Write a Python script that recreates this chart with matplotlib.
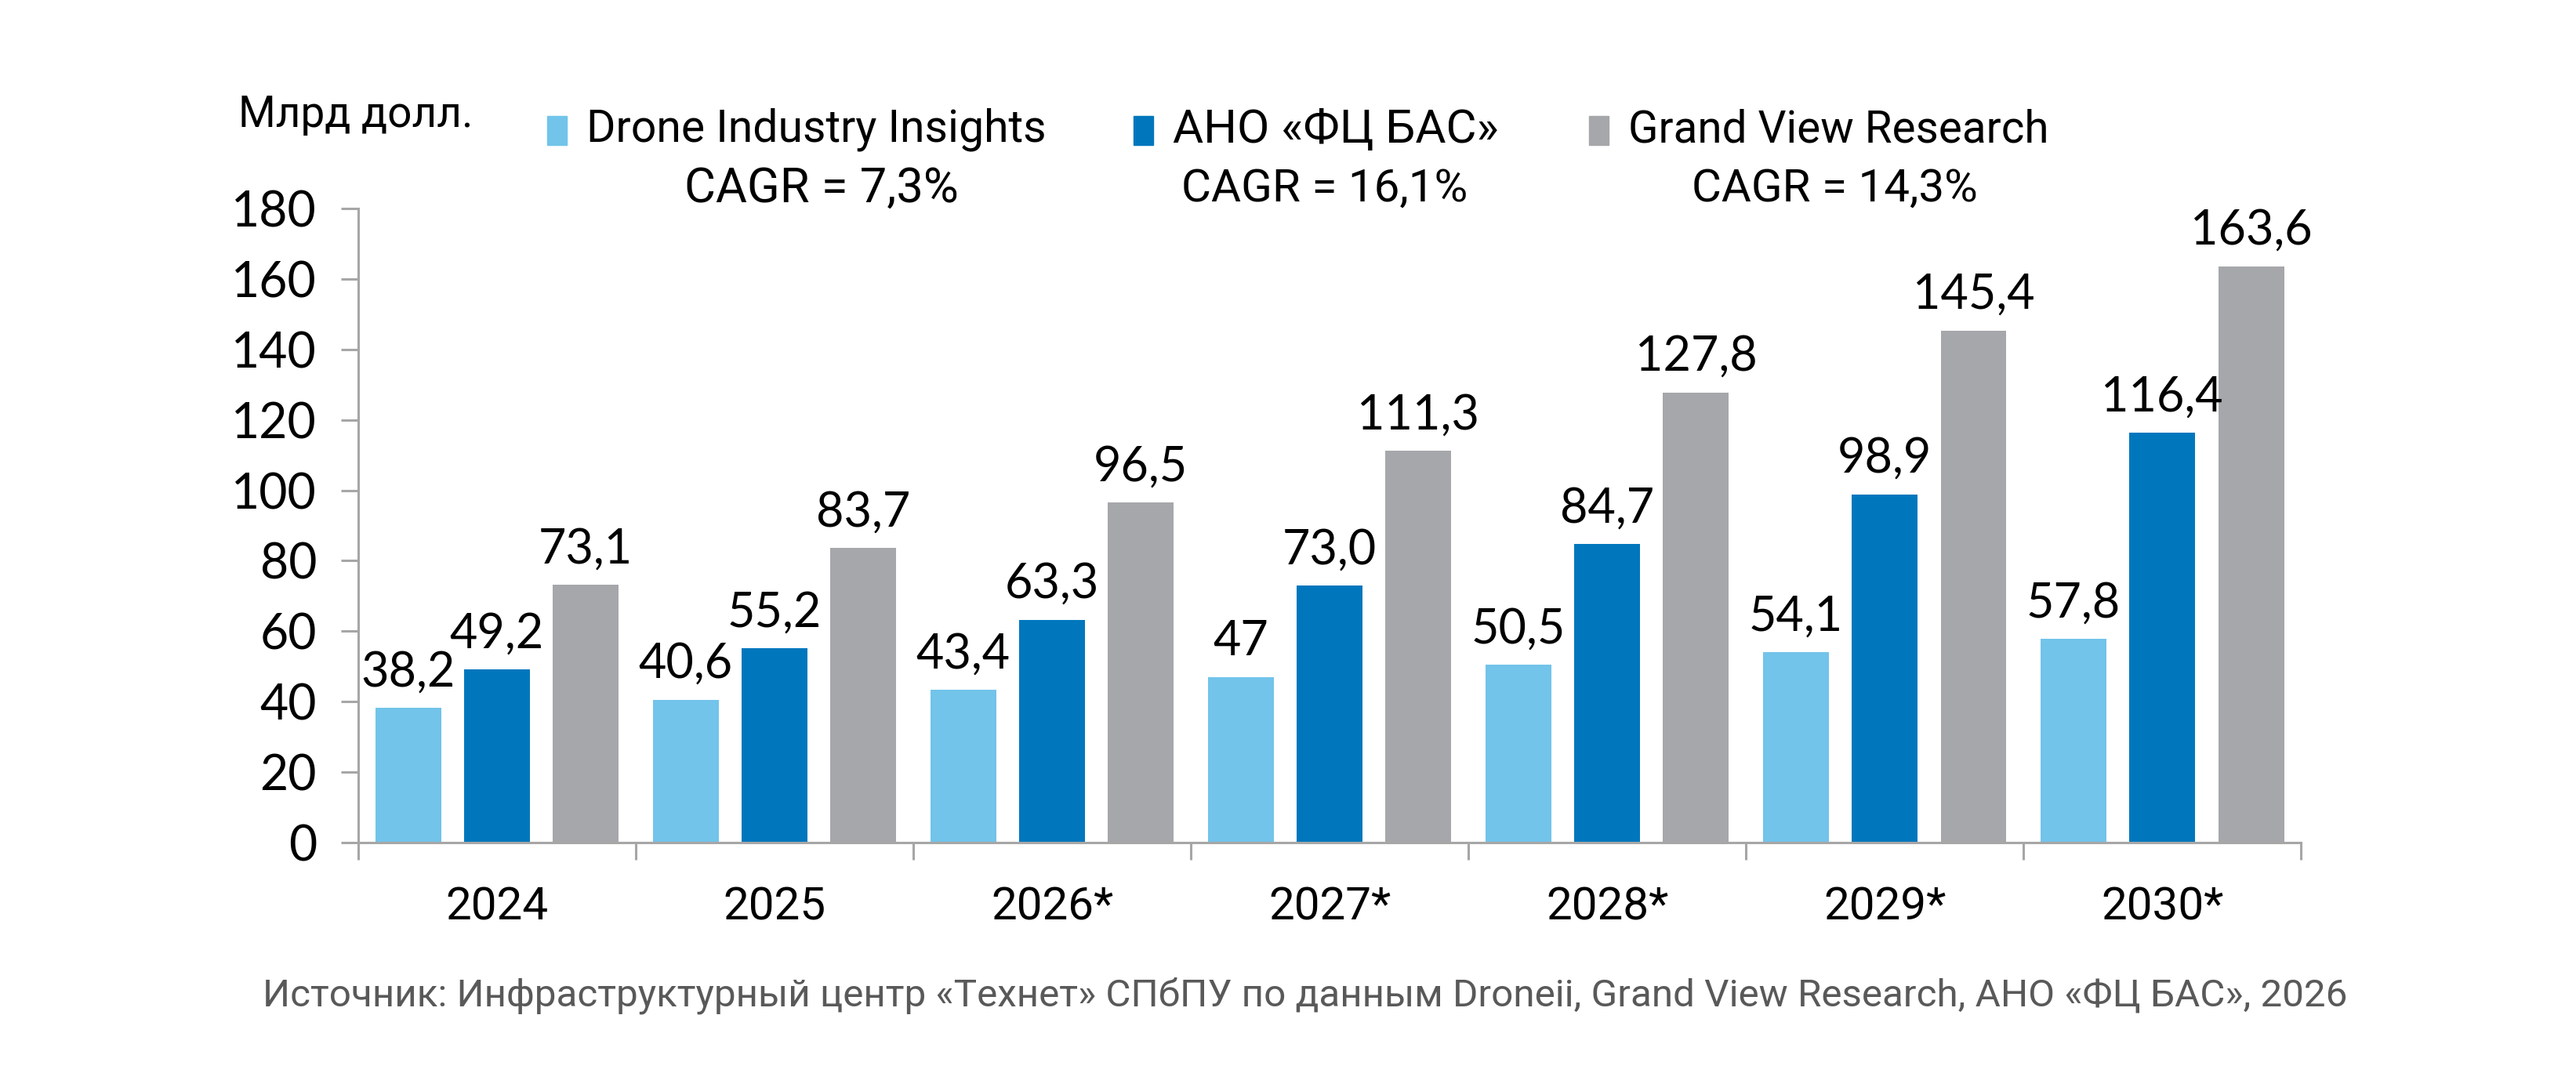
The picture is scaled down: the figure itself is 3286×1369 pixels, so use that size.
import numpy as np
import matplotlib
matplotlib.use('Agg')
import matplotlib.pyplot as plt
from matplotlib.patches import Rectangle
from matplotlib.ticker import FixedLocator

# data
years = ['2024', '2025', '2026*', '2027*', '2028*', '2029*', '2030*']
series = ['Drone Industry Insights', 'АНО «ФЦ БАС»', 'Grand View Research']
cagr = ['CAGR = 7,3%', 'CAGR = 16,1%', 'CAGR = 14,3%']
dii = [38.2, 40.6, 43.4, 47.0, 50.5, 54.1, 57.8]
dii_lbl = ['38,2', '40,6', '43,4', '47', '50,5', '54,1', '57,8']
fcbas = [49.2, 55.2, 63.3, 73.0, 84.7, 98.9, 116.4]
gvr = [73.1, 83.7, 96.5, 111.3, 127.8, 145.4, 163.6]
yticks = [0, 20, 40, 60, 80, 100, 120, 140, 160, 180]

colors = ['#72C4EA', '#0077BD', '#A6A7AA']
num_font = ['Lato', 'DejaVu Sans']
narrow = ['Roboto', 'DejaVu Sans']
axis_col = '#A6A6A6'

fig = plt.figure(figsize=(32.87, 13.69), dpi=100)
ax = fig.add_axes([0.139, 0.2147, 0.754, 0.591])

x = np.arange(len(years))
w = 0.237
off = 0.32
values = [dii, fcbas, gvr]
labels = [dii_lbl,
          [f'{v:.1f}'.replace('.', ',') for v in fcbas],
          [f'{v:.1f}'.replace('.', ',') for v in gvr]]
for i in range(3):
    bars = ax.bar(x + (i - 1) * off, values[i], width=w, color=colors[i], zorder=2)
    for b, t in zip(bars, labels[i]):
        ax.annotate(t, (b.get_x() + b.get_width() / 2, b.get_height()),
                    xytext=(0, 12), textcoords='offset points',
                    ha='center', va='bottom', fontsize=44, family=num_font)

ax.set_xlim(-0.5, 6.5)
ax.set_ylim(0, 180)
ax.set_yticks(yticks)
ax.set_yticklabels([str(v) for v in yticks], fontsize=45, family=num_font)
ax.set_xticks(x)
ax.set_xticklabels(years, fontsize=42, family=narrow)
ax.xaxis.set_minor_locator(FixedLocator(np.arange(-0.5, 7, 1)))
ax.tick_params(axis='x', which='major', length=0, pad=40)
ax.tick_params(axis='x', which='minor', length=16, width=2.2, color=axis_col)
ax.tick_params(axis='y', length=16, width=2.2, color=axis_col, pad=22)
for s in ['top', 'right']:
    ax.spines[s].set_visible(False)
for s in ['left', 'bottom']:
    ax.spines[s].set_color(axis_col)
    ax.spines[s].set_linewidth(2.2)

renderer = fig.canvas.get_renderer()


def fit(t, width_px):
    # scale font so the text spans the given width in pixels
    bb = t.get_window_extent(renderer)
    t.set_fontsize(t.get_fontsize() * width_px / bb.width)


# units + legend
fit(fig.text(0.0925, 0.893, 'Млрд долл.', fontsize=34, family=narrow,
             ha='left', va='center'), 300)
leg_x = [0.2124, 0.4399, 0.6167]
leg_w = [587, 415, 537]
cagr_x = [0.3188, 0.5141, 0.7119]
for i in range(3):
    fig.patches.append(Rectangle((leg_x[i], 0.865), 0.0076, 0.027,
                                 transform=fig.transFigure, color=colors[i]))
    fit(fig.text(leg_x[i] + 0.0152, 0.879, series[i], fontsize=40, family=narrow,
                 ha='left', va='center'), leg_w[i])
    t = fig.text(cagr_x[i], 0.824, cagr[i], fontsize=38, family=narrow,
                 ha='center', va='center')
    fit(t, 350 if i == 0 else 365)

fit(fig.text(0.102, 0.072,
             'Источник: Инфраструктурный центр «Технет» СПбПУ по данным Droneii, '
             'Grand View Research, АНО «ФЦ БАС», 2026',
             fontsize=36, family=narrow, color='#595959', ha='left', va='center'),
    2660)

fig.savefig('out.png', dpi=100)
